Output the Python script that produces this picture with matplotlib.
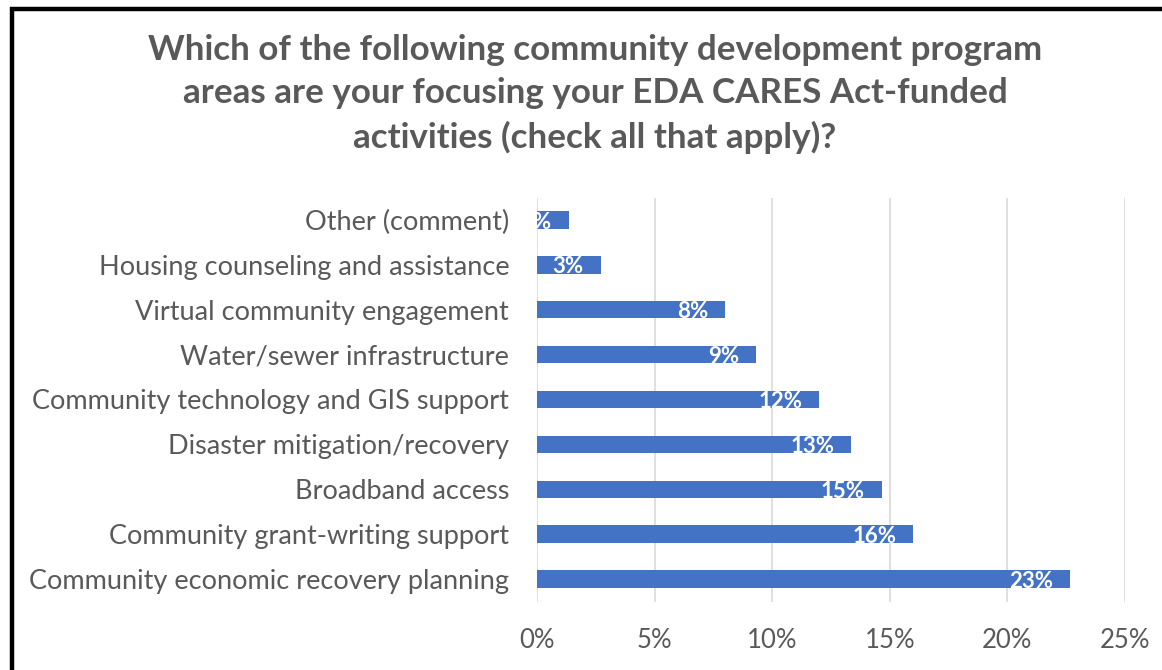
import matplotlib
matplotlib.use("Agg")
import matplotlib.pyplot as plt
from matplotlib.patches import Rectangle
from matplotlib.ticker import FuncFormatter

# Survey responses, top of chart first
categories = [
    "Other (comment)",
    "Housing counseling and assistance",
    "Virtual community engagement",
    "Water/sewer infrastructure",
    "Community technology and GIS support",
    "Disaster mitigation/recovery",
    "Broadband access",
    "Community grant-writing support",
    "Community economic recovery planning",
]
shares = [1.35, 2.7, 8.0, 9.3, 12.0, 13.35, 14.65, 16.0, 22.65]  # percent of respondents
x_ticks = [0, 5, 10, 15, 20, 25]

TITLE = ("Which of the following community development program\n"
         "areas are your focusing your EDA CARES Act-funded\n"
         "activities (check all that apply)?")

BAR_COLOR = "#4472C4"
TEXT_COLOR = "#595959"
GRID_COLOR = "#D9D9D9"

plt.rcParams["font.family"] = ["Lato", "DejaVu Sans"]

fig = plt.figure(figsize=(11.62, 6.70), dpi=100)
W, H = 1162, 670

# plot area in pixel terms, converted to figure fractions
left, right, top, bottom = 537, 1125, 197.5, 601.5
ax = fig.add_axes([left / W, 1 - bottom / H, (right - left) / W, (bottom - top) / H])

ypos = list(range(len(categories)))[::-1]
bars = ax.barh(ypos, shares, height=0.39, color=BAR_COLOR, zorder=3)

ax.set_xlim(0, 25)
ax.set_ylim(-0.5, len(categories) - 0.5)
ax.set_xticks(x_ticks)
ax.xaxis.set_major_formatter(FuncFormatter(lambda v, _: f"{v:.0f}%"))
ax.set_yticks(ypos)
ax.set_yticklabels(categories)
ax.tick_params(axis="both", length=0, colors=TEXT_COLOR)
ax.tick_params(axis="x", pad=19, labelsize=18.5)
ax.tick_params(axis="y", pad=20, labelsize=19.5)
ax.grid(axis="x", color=GRID_COLOR, linewidth=1.2, zorder=0)
for side in ax.spines.values():
    side.set_visible(False)

# value labels sit inside the bar end; narrow bars get clipped at the axis edge
for rect, val in zip(bars, shares):
    ax.annotate(f"{val:.0f}%", xy=(rect.get_width(), rect.get_y() + rect.get_height() / 2),
                xytext=(-12, -1.5), textcoords="offset points",
                ha="right", va="center", color="white", fontsize=16,
                fontweight="bold", clip_on=True, zorder=4)

fig.text(595 / W, 1 - 94 / H, TITLE, ha="center", va="center", color=TEXT_COLOR,
         fontsize=25.2, fontweight="bold", linespacing=1.42)

# black chart frame, running off the right and bottom edges
fig.patches.append(Rectangle((12 / W, -0.05), 1.1, 1 - 8.5 / H + 0.05,
                             transform=fig.transFigure, fill=False,
                             edgecolor="black", linewidth=3.2))

fig.savefig("out.png", dpi=100)
